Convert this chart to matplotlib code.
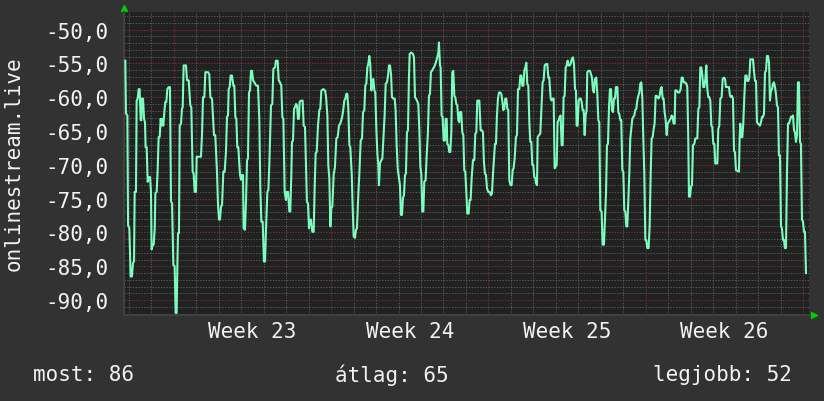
import matplotlib
matplotlib.use("Agg")
import matplotlib.pyplot as plt
import numpy as np
from matplotlib.ticker import FixedLocator, MultipleLocator

# (hours since start of graph, signal dBm), one list per stretch
part_1 = [
    (1.4, -54.6), (2.1, -62.4), (3.6, -62.7), (4.3, -78.9), (5.7, -79.4), (7.1, -86.5),
    (8.5, -86.5), (9.6, -84.5), (10.7, -84.3), (11.4, -74.0), (12.8, -74.0), (13.5, -60.5),
    (14.6, -60.2), (15.7, -58.8), (16.7, -58.8), (17.8, -63.4), (18.5, -63.4), (19.2, -60.2),
    (20.3, -60.2), (21.4, -63.2), (22.4, -63.7), (23.1, -67.4), (24.2, -67.4), (25.3, -72.5),
    (26.3, -71.8), (27.8, -71.8), (28.8, -74.0), (29.5, -82.5), (30.6, -81.8), (31.7, -81.8),
    (32.8, -79.4), (33.5, -74.2), (34.9, -74.0), (36.0, -70.5), (37.0, -65.9), (38.1, -65.9),
    (39.2, -63.2), (39.9, -64.2), (40.6, -63.2), (42.0, -64.2), (43.1, -62.2), (44.1, -60.7),
    (45.2, -60.7), (46.3, -58.8), (47.7, -58.5), (49.1, -58.5), (50.2, -75.4), (51.3, -75.7),
    (52.7, -84.8), (54.1, -85.0), (55.2, -91.9), (56.2, -91.9), (57.0, -84.8), (57.7, -80.1),
    (58.7, -80.1), (59.5, -64.2), (60.9, -63.9), (61.9, -61.7), (62.7, -61.5), (63.7, -55.3),
    (66.2, -55.3), (67.3, -57.5), (69.1, -57.5), (70.8, -61.2), (71.9, -61.5), (73.3, -71.0),
    (74.4, -71.3), (75.5, -74.0), (76.9, -74.0), (77.6, -68.8), (82.2, -68.8), (83.3, -65.6),
    (84.4, -60.0), (85.8, -60.0), (86.9, -56.3), (89.7, -56.3), (91.1, -56.6), (92.2, -60.0),
    (94.0, -60.2), (96.1, -65.6), (97.5, -65.6), (99.3, -71.0), (100.4, -75.9), (101.5, -78.1),
    (102.5, -78.1), (103.6, -76.2), (104.7, -75.9), (106.1, -71.0), (107.5, -71.0), (108.9, -68.1),
    (110.0, -62.9), (111.1, -62.7), (111.8, -58.8), (112.9, -58.5), (113.9, -56.8), (115.3, -56.8),
    (116.8, -58.3), (117.8, -58.3), (118.9, -62.9), (120.0, -63.2), (121.0, -67.4), (122.1, -67.4),
    (123.9, -71.5), (125.0, -72.2), (126.0, -71.5), (127.1, -71.5), (127.8, -79.4), (129.2, -79.6),
    (130.3, -75.4), (131.4, -69.3), (132.4, -69.1), (133.5, -59.3), (134.6, -59.0), (135.6, -56.1),
    (136.7, -56.1), (137.8, -57.5), (139.2, -57.8), (141.3, -58.3), (143.1, -58.3), (144.5, -63.2),
    (145.6, -73.5), (146.7, -78.4),
]
part_2 = [
    (147.0, -78.4), (148.1, -78.4), (149.5, -84.3), (150.6, -84.3), (151.7, -79.4), (153.1, -74.0),
    (154.2, -73.7), (155.2, -70.0), (157.0, -61.2), (158.4, -61.0), (159.5, -55.8), (161.3, -55.6),
    (162.3, -54.6), (164.1, -54.6), (165.2, -57.5), (166.6, -57.8), (168.0, -58.3), (169.1, -62.9),
    (170.2, -63.2), (171.6, -74.0), (173.0, -75.2), (173.7, -74.0), (175.2, -74.0), (176.6, -76.9),
    (177.6, -76.9), (178.7, -71.5), (179.4, -66.6), (180.5, -66.4), (181.6, -61.7), (182.6, -61.5),
    (183.7, -61.0), (184.8, -61.2), (185.8, -63.2), (186.9, -63.2), (187.6, -60.7), (189.0, -60.5),
    (190.8, -60.5), (191.9, -64.2), (193.3, -64.4), (194.4, -70.5), (195.4, -75.5), (196.5, -75.7),
    (197.6, -79.4), (198.7, -78.1), (199.7, -78.1), (201.1, -79.9), (202.6, -79.9), (203.6, -73.5),
    (204.7, -68.3), (205.8, -68.1), (207.2, -64.2), (208.6, -61.9), (209.7, -61.7), (210.8, -59.0),
    (212.9, -58.8), (214.7, -59.0), (215.7, -59.8), (217.2, -62.7), (218.2, -70.0), (219.3, -72.0),
    (220.4, -79.1), (221.4, -76.4), (222.5, -76.2), (223.9, -71.5), (225.3, -70.3), (226.8, -66.1),
    (228.2, -65.9), (229.6, -64.2), (231.0, -63.9), (232.5, -63.2), (233.9, -62.2), (235.3, -60.5),
    (236.4, -60.2), (237.5, -59.5), (238.5, -59.5), (239.6, -61.7), (240.7, -67.1), (241.7, -67.4),
    (243.2, -71.3), (244.2, -76.2), (245.3, -80.6), (246.7, -80.8), (247.8, -79.6), (248.8, -79.4),
    (250.3, -74.2), (251.3, -71.5), (252.8, -66.4), (254.2, -66.1), (255.3, -62.2), (256.7, -61.9),
    (257.7, -58.3), (258.8, -58.0), (259.9, -55.6), (260.9, -55.1), (262.0, -53.9), (263.1, -55.3),
    (264.2, -59.0), (265.2, -57.5), (266.3, -57.3), (267.4, -59.0), (268.4, -59.3), (269.5, -64.7),
    (270.6, -68.3), (271.6, -70.0), (272.3, -73.0), (273.4, -69.8), (274.8, -69.3), (275.9, -69.1),
    (277.0, -66.1), (278.4, -62.5), (279.5, -58.0), (280.9, -57.8), (282.0, -56.8), (283.0, -55.3),
    (284.1, -55.3), (285.2, -56.6), (286.2, -60.0), (287.7, -60.2), (289.1, -60.2), (290.1, -61.9),
    (291.2, -67.1), (292.3, -70.5), (293.3, -71.5),
]
part_3 = [
    (294.7, -73.0), (295.8, -77.4), (296.9, -77.4), (297.9, -74.9), (299.0, -74.5), (300.1, -71.5),
    (301.1, -71.3), (302.2, -65.2), (303.3, -64.9), (304.3, -57.3), (305.1, -53.6), (306.8, -53.4),
    (308.6, -53.6), (309.7, -54.1), (310.8, -60.0), (311.8, -60.2), (312.9, -60.5), (314.3, -61.0),
    (315.4, -64.7), (316.5, -70.3), (317.5, -71.3), (318.6, -76.9), (319.7, -76.9), (320.7, -72.5),
    (322.1, -72.3), (323.2, -68.8), (324.6, -65.2), (325.7, -59.8), (326.8, -59.5), (327.8, -56.3),
    (328.9, -56.1), (330.0, -55.8), (331.0, -55.6), (332.5, -55.1), (333.5, -54.6), (334.6, -54.1),
    (335.7, -53.4), (336.4, -51.9), (337.5, -55.3), (338.2, -55.6), (339.2, -62.7), (340.3, -62.9),
    (341.4, -66.4), (342.8, -66.4), (343.5, -63.2), (344.6, -63.2), (345.3, -66.9), (346.4, -67.1),
    (347.4, -68.1), (348.5, -68.1), (349.6, -65.2), (350.6, -56.3), (351.7, -56.1), (352.8, -59.8),
    (353.8, -60.0), (354.9, -61.0), (356.0, -61.2), (357.0, -63.4), (358.1, -63.7), (358.8, -62.2),
    (360.2, -62.2), (361.3, -65.2), (362.4, -65.6), (363.4, -70.8), (364.5, -71.0), (365.6, -74.0),
    (366.6, -77.2), (368.1, -77.2), (369.1, -75.2), (370.2, -75.2), (371.3, -72.0), (372.7, -69.3),
    (374.1, -69.3), (375.2, -65.4), (376.3, -65.2), (377.3, -60.5), (379.5, -60.5), (380.9, -64.9),
    (382.3, -64.9), (383.4, -65.2), (384.4, -69.6), (385.5, -71.3), (386.6, -71.5), (387.7, -73.5),
    (389.1, -74.0), (390.5, -74.0), (391.9, -74.5), (393.0, -74.2), (394.1, -71.3), (395.1, -69.1),
    (396.2, -66.9), (397.3, -66.9), (398.3, -62.7), (399.4, -60.2), (400.5, -59.3), (401.9, -59.3),
    (403.0, -59.5), (404.0, -60.5), (405.1, -61.9), (406.2, -61.7), (407.2, -60.2), (408.3, -60.2),
    (409.4, -61.7), (410.4, -61.9), (411.5, -72.3), (412.9, -73.0), (414.0, -73.0), (415.1, -70.8),
    (416.1, -70.5), (417.2, -69.1), (418.6, -65.9), (419.7, -65.6), (420.8, -58.8), (422.2, -58.8),
    (423.3, -56.8), (424.3, -56.8), (425.4, -58.3), (426.5, -58.3), (427.5, -56.1), (428.6, -55.6),
    (429.7, -54.9), (430.7, -58.0), (431.8, -58.3), (432.9, -63.7), (433.9, -66.6), (435.0, -66.6),
    (436.1, -70.0), (437.1, -70.0), (438.2, -71.8), (439.3, -72.0),
]
part_4 = [
    (440.0, -72.7), (441.1, -73.0), (441.8, -65.9), (443.2, -65.6), (444.6, -65.4), (445.7, -61.9),
    (447.1, -57.8), (448.2, -57.5), (449.3, -55.3), (450.7, -55.1), (452.1, -55.1), (453.2, -57.1),
    (454.2, -57.1), (455.7, -60.2), (456.7, -60.5), (457.8, -60.2), (458.9, -60.2), (459.9, -70.5),
    (461.0, -70.3), (462.1, -70.0), (463.1, -63.7), (464.2, -63.4), (465.3, -62.9), (466.3, -62.7),
    (467.4, -67.1), (468.5, -67.1), (469.5, -60.0), (470.6, -59.8), (471.7, -55.6), (472.8, -55.3),
    (473.8, -54.6), (474.9, -55.3), (476.0, -55.3), (477.0, -55.1), (478.1, -54.4), (479.5, -54.1),
    (480.6, -55.1), (481.7, -58.8), (482.7, -59.0), (483.4, -64.2), (484.5, -64.2), (485.6, -60.5),
    (486.6, -60.2), (487.7, -60.2), (488.8, -60.7), (489.8, -61.9), (490.9, -61.9), (492.0, -65.6),
    (493.0, -62.7), (494.1, -61.9), (494.8, -56.3), (496.2, -56.1), (497.7, -56.1), (498.7, -56.6),
    (499.8, -57.1), (500.9, -59.0), (501.9, -59.3), (503.0, -57.3), (504.4, -57.1), (505.5, -59.5),
    (506.6, -63.4), (507.6, -63.7), (508.7, -76.7), (510.1, -76.9), (511.2, -81.8), (512.6, -81.8),
    (513.7, -77.9), (514.8, -74.2), (515.8, -67.1), (516.9, -66.9), (518.0, -61.5), (519.0, -58.8),
    (520.1, -58.8), (521.2, -61.9), (522.2, -62.2), (523.3, -60.2), (524.4, -60.2), (525.4, -58.5),
    (526.9, -58.5), (527.9, -62.2), (529.0, -62.5), (530.1, -63.4), (531.1, -63.4), (532.2, -70.8),
    (533.3, -71.0), (534.3, -76.7), (535.4, -76.9), (536.5, -79.1), (537.5, -79.1), (538.6, -75.4),
    (539.7, -71.3), (540.7, -66.1), (541.8, -64.7), (542.9, -63.2), (544.0, -62.9), (545.0, -62.7),
    (546.1, -61.9), (547.2, -61.7), (548.2, -60.5), (549.3, -59.8), (550.4, -59.3), (551.4, -58.0),
    (552.5, -57.8), (553.6, -60.2), (554.6, -65.9), (555.7, -71.3), (556.8, -81.1), (557.8, -81.1),
    (558.9, -82.3), (560.3, -82.3), (561.4, -79.1), (562.5, -71.3), (563.5, -66.1), (564.6, -65.9),
    (565.7, -64.7), (566.7, -63.9), (567.8, -59.8), (568.9, -59.8), (569.9, -60.0), (571.0, -60.2),
    (572.1, -59.8), (573.1, -58.8), (574.2, -58.5), (575.3, -60.2), (576.3, -60.2), (577.4, -62.2),
    (578.5, -63.4), (579.6, -65.6), (580.6, -63.9), (581.7, -63.7), (582.8, -63.4), (583.8, -63.2),
    (584.9, -62.7), (586.0, -62.9), (587.0, -63.9), (588.1, -63.9),
]
part_5 = [
    (588.8, -59.0), (590.2, -59.0), (591.7, -59.3), (593.1, -59.3), (594.5, -58.8), (595.6, -57.1),
    (596.7, -57.1), (597.7, -57.8), (599.1, -57.8), (600.6, -58.0), (601.6, -58.5), (602.7, -66.6),
    (603.4, -74.7), (604.5, -74.7), (605.6, -73.2), (606.6, -73.0), (607.7, -67.1), (609.1, -66.9),
    (610.2, -66.1), (612.3, -66.1), (613.4, -61.7), (614.5, -61.5), (615.5, -55.6), (616.6, -55.6),
    (617.7, -56.8), (618.7, -58.5), (619.8, -58.5), (620.9, -57.3), (621.9, -55.3), (623.0, -58.8),
    (624.1, -60.0), (625.1, -60.0), (626.2, -60.5), (627.3, -64.2), (628.3, -64.4), (629.4, -66.9),
    (630.5, -66.9), (631.5, -69.8), (633.7, -69.8), (634.7, -64.7), (635.8, -64.2), (636.9, -60.2),
    (638.3, -60.0), (639.4, -57.3), (640.8, -57.1), (641.9, -57.3), (642.9, -58.5), (646.1, -58.5),
    (647.2, -59.8), (648.3, -60.0), (649.3, -59.8), (650.4, -60.2), (651.5, -67.9), (652.5, -68.1),
    (653.6, -70.8), (656.8, -71.0), (657.5, -66.1), (658.2, -63.9), (659.3, -65.9), (660.4, -65.9),
    (661.4, -63.9), (662.5, -60.0), (663.6, -56.8), (665.0, -56.8), (665.7, -57.6), (666.8, -57.6),
    (667.9, -57.1), (668.9, -54.4), (671.8, -54.4), (672.8, -56.1), (673.9, -57.6), (675.0, -57.6),
    (676.0, -63.7), (677.1, -63.9), (679.2, -64.2), (680.3, -63.7), (681.4, -62.9), (682.5, -62.9),
    (683.5, -62.5), (684.6, -56.3), (685.7, -56.1), (686.7, -53.9), (687.8, -53.9), (688.9, -54.9),
    (689.9, -60.5), (691.0, -59.0), (692.1, -58.8), (693.1, -58.0), (694.2, -57.8), (695.3, -58.5),
    (696.3, -59.5), (697.4, -61.2), (698.5, -61.5), (699.5, -68.6), (700.6, -68.6), (701.7, -79.1),
    (702.7, -79.4), (703.8, -81.1), (704.9, -81.1), (705.9, -82.3), (707.0, -82.3), (708.1, -71.0),
    (709.2, -63.9), (710.2, -63.9), (711.3, -63.4), (712.4, -62.9), (713.4, -62.9), (714.5, -62.7),
    (715.6, -64.9), (716.6, -65.2), (717.7, -66.6), (718.8, -65.6), (719.8, -57.8), (720.9, -57.8),
    (722.0, -66.6), (723.0, -66.9), (724.1, -78.1), (725.2, -78.4), (726.2, -79.9), (727.3, -79.9),
    (728.4, -86.0),
]

week_labels = ["Week 23", "Week 24", "Week 25", "Week 26"]
first_week_start_h = 53.2   # first week boundary, hours from left edge
graph_span_h = 731.6
y_ticks = [-90, -85, -80, -75, -70, -65, -60, -55, -50]
stat_now, stat_avg, stat_best = 86, 65, 52

BG = "#323232"
PLOT_BG = "#212121"
LINE = "#7dfcbf"
MINOR_GRID = "#555555"
MAJOR_GRID = "#6c3232"
TEXT = "#f2f2f2"
MONO = "DejaVu Sans Mono"
DOTS = (0, (1.4, 1.4))

pts = np.array(part_1 + part_2 + part_3 + part_4 + part_5)
hours, dbm = pts[:, 0], pts[:, 1]

W, H = 824, 402
fig = plt.figure(figsize=(W / 100, H / 100), dpi=100, facecolor=BG)
ax = fig.add_axes([124 / W, 1 - 316 / H, 685 / W, 303 / H], facecolor=PLOT_BG)
ax.set_xlim(0, graph_span_h)
ax.set_ylim(-92.2, -47.4)

# grid: 1 unit / 1 day minor, 5 units / 1 week major
ax.yaxis.set_major_locator(FixedLocator(y_ticks))
ax.yaxis.set_minor_locator(MultipleLocator(1))
ax.grid(True, axis="y", which="minor", color=MINOR_GRID, linestyle=DOTS, linewidth=0.72)
ax.grid(True, axis="y", which="major", color=MAJOR_GRID, linestyle=DOTS, linewidth=0.72)

week_starts = np.arange(first_week_start_h, graph_span_h, 168.0)
day_lines = np.arange(first_week_start_h % 24, graph_span_h, 24.0)
for d in day_lines:
    if np.min(np.abs(week_starts - d)) > 1:
        ax.axvline(d, color=MINOR_GRID, linestyle=DOTS, linewidth=0.72, zorder=0.5)
for w in week_starts:
    ax.axvline(w, color=MAJOR_GRID, linestyle=DOTS, linewidth=0.72, zorder=0.6)
ax.set_axisbelow(True)

ax.plot(hours, dbm, color=LINE, linewidth=1.5, zorder=3)

ax.set_xticks(week_starts[:len(week_labels)] + 84.0)
ax.set_xticklabels(week_labels)
ax.set_yticklabels([f"{v:.1f}".replace(".", ",") for v in y_ticks])
ax.tick_params(axis="both", which="both", length=0, colors=TEXT, labelsize=15)
ax.tick_params(axis="y", pad=11.5)
ax.tick_params(axis="x", pad=4)
for lab in ax.get_xticklabels() + ax.get_yticklabels():
    lab.set_family(MONO)

for side in ("top", "right"):
    ax.spines[side].set_visible(False)
for side in ("left", "bottom"):
    ax.spines[side].set_color("#414141")
    ax.spines[side].set_linewidth(1.5)

# little green arrow heads at the axis ends
ax.plot([0], [1.012], marker="^", markersize=5, color="#00d000", transform=ax.transAxes, clip_on=False)
ax.plot([1.0066], [0], marker=">", markersize=5, color="#00d000", transform=ax.transAxes, clip_on=False)

fig.text(14 / W, 1 - 164 / H, "onlinestream.live", rotation=90, ha="center", va="center",
         color=TEXT, fontsize=15, family=MONO)
leg_y = 1 - 375 / H
fig.text(33 / W, leg_y, f"most: {stat_now}", ha="left", va="center", color=TEXT, fontsize=15, family=MONO)
fig.text(392 / W, leg_y, f"átlag: {stat_avg}", ha="center", va="center", color=TEXT, fontsize=15, family=MONO)
fig.text(792 / W, leg_y, f"legjobb: {stat_best}", ha="right", va="center", color=TEXT, fontsize=15, family=MONO)

fig.savefig("out.png", dpi=100, facecolor=BG)
